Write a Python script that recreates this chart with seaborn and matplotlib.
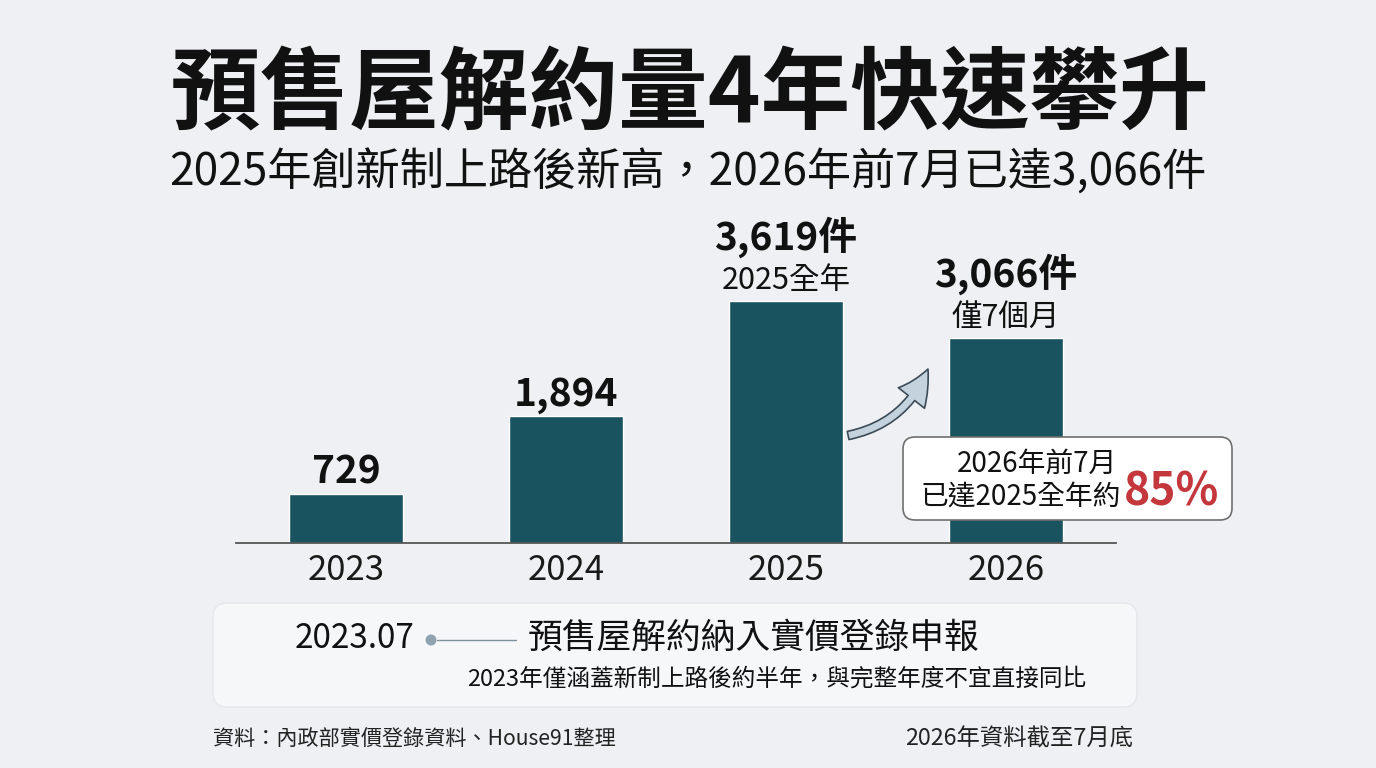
import matplotlib
matplotlib.use("Agg")
import matplotlib.pyplot as plt
from matplotlib.patches import FancyBboxPatch, FancyArrowPatch, Circle
import seaborn as sns
import pandas as pd

# ---- data ----
years = ["2023", "2024", "2025", "2026"]
counts = [729, 1894, 3619, 3066]
value_labels = ["729", "1,894", "3,619件", "3,066件"]
sub_labels = ["", "", "2025全年", "僅7個月"]

title = "預售屋解約量4年快速攀升"
subtitle = "2025年創新制上路後新高，2026年前7月已達3,066件"
callout_line1 = "2026年前7月"
callout_line2 = "已達2025全年約"
callout_pct = "85%"
panel_date = "2023.07"
panel_head = "預售屋解約納入實價登錄申報"
panel_note = "2023年僅涵蓋新制上路後約半年，與完整年度不宜直接同比"
source_left = "資料：內政部實價登錄資料、House91整理"
source_right = "2026年資料截至7月底"

BG = "#eef0f3"
BAR = "#19535f"
RED = "#c4373c"
INK = "#111111"

sns.set_theme(style="white")
plt.rcParams["font.family"] = ["Noto Sans CJK TC", "DejaVu Sans"]

W, H = 1376, 768
fig = plt.figure(figsize=(W / 100, H / 100), dpi=100)
fig.patch.set_facecolor(BG)

# main bar axes (pixel layout: x 236..1116, baseline y=543, top y=200)
ax = fig.add_axes([236 / W, 1 - 543 / H, 880 / W, 343 / H])
ax.set_facecolor("none")
df = pd.DataFrame({"year": years, "count": counts})
sns.barplot(data=df, x="year", y="count", color=BAR, saturation=1,
            width=0.52, ax=ax)
ax.set_xlim(-0.5, 3.5)
ax.set_ylim(0, 343 / 242 * 3619)
for s in ["top", "right", "left"]:
    ax.spines[s].set_visible(False)
ax.spines["bottom"].set_color("#555555")
ax.spines["bottom"].set_linewidth(1.3)
ax.set_yticks([])
ax.set_xlabel("")
ax.set_ylabel("")
ax.tick_params(axis="x", length=0, pad=7, labelsize=25, labelcolor="#1a1a1a")

for i, (v, lab, sub) in enumerate(zip(counts, value_labels, sub_labels)):
    if sub:
        ax.annotate(sub, (i, v), xytext=(0, 12), textcoords="offset pixels",
                    ha="center", va="baseline", fontsize=22, color=INK)
        ax.annotate(lab, (i, v), xytext=(0, 51), textcoords="offset pixels",
                    ha="center", va="baseline", fontsize=28,
                    fontweight="bold", color=INK)
    else:
        ax.annotate(lab, (i, v), xytext=(0, 11), textcoords="offset pixels",
                    ha="center", va="baseline", fontsize=28,
                    fontweight="bold", color=INK)

# growth arrow between 2025 and 2026
arrow = FancyArrowPatch((2.27, 1600), (2.65, 2640),
                        connectionstyle="arc3,rad=0.28",
                        arrowstyle="simple,head_width=24,head_length=24,tail_width=6",
                        fc="#c3d2dc", ec="#3b4b57", lw=1.2, zorder=4,
                        mutation_scale=1)
ax.add_patch(arrow)

# overlay in pixel coordinates for annotations
ov = fig.add_axes([0, 0, 1, 1], zorder=5)
ov.set_xlim(0, W)
ov.set_ylim(H, 0)
ov.axis("off")
ov.patch.set_alpha(0)

ov.text(690, 96, title, ha="center", va="center", fontsize=64.5,
        fontweight="black", color=INK)
ov.text(688, 172, subtitle, ha="center", va="center", fontsize=31.8,
        fontweight="medium", color=INK)

# callout box
ov.add_patch(FancyBboxPatch((903, 437), 329, 83,
                            boxstyle="round,pad=0,rounding_size=12",
                            fc="white", ec="#6f6f6f", lw=1.2, zorder=6))
ov.text(1037, 472, callout_line1, ha="center", va="baseline", fontsize=20,
        color=INK, zorder=7)
ov.text(1121, 505, callout_line2, ha="right", va="baseline", fontsize=20,
        color=INK, zorder=7)
ov.text(1124, 505, callout_pct, ha="left", va="baseline", fontsize=32,
        fontweight="bold", color=RED, zorder=7)

# bottom panel
ov.add_patch(FancyBboxPatch((213, 603), 924, 104,
                            boxstyle="round,pad=0,rounding_size=14",
                            fc="#f6f7f9", ec="#e4e7eb", lw=1.0, zorder=1))
ov.text(414, 639, panel_date, ha="right", va="center", fontsize=24,
        color=INK, zorder=3)
ov.add_patch(Circle((431, 640), 5.5, fc="#8fa2af", ec="none", zorder=3))
ov.plot([437, 516], [640, 640], color="#7d8f9b", lw=1.0, zorder=2)
ov.text(528, 638, panel_head, ha="left", va="center", fontsize=25,
        fontweight="medium", color=INK, zorder=3)
ov.text(1086, 679, panel_note, ha="right", va="center", fontsize=17,
        color=INK, zorder=3)

# footer
ov.text(213, 739, source_left, ha="left", va="center", fontsize=15.2,
        color="#222222")
ov.text(1133, 739, source_right, ha="right", va="center", fontsize=16.8,
        color="#222222")

fig.savefig("out.png", dpi=100, facecolor=BG)
